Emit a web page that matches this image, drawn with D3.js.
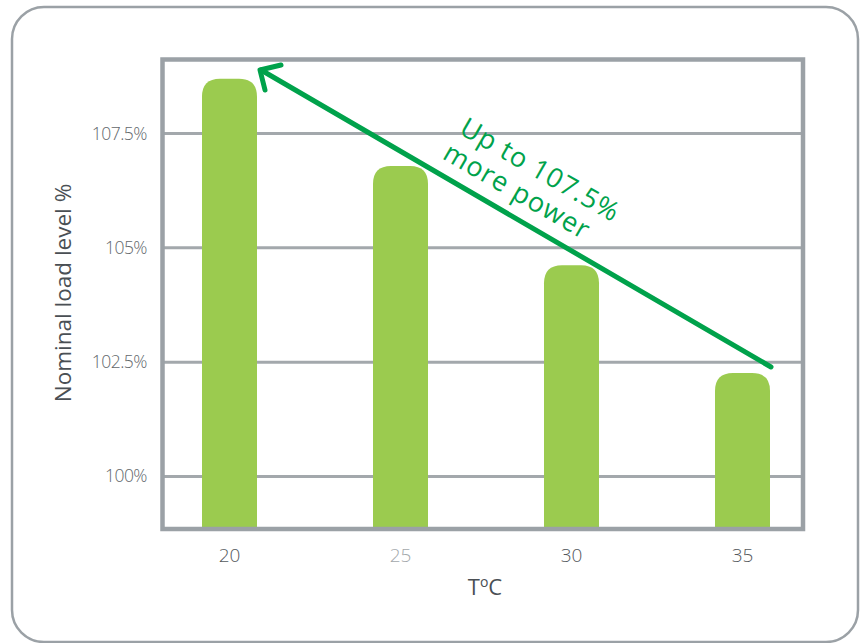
<!DOCTYPE html>
<html>
<head>
<meta charset="utf-8">
<script src="https://cdn.jsdelivr.net/npm/d3@7"></script>
<style>
  body { margin: 0; background: #fff; }
  svg { display: block; font-family: "Open Sans", "Lato", sans-serif; }
</style>
</head>
<body>
<svg id="chart"></svg>
<script>
const width = 863;
const height = 643;

// data
const temps = ["20", "25", "30", "35"];
const loads = [108.7, 106.79, 104.62, 102.26];
const yTicks = [100, 102.5, 105, 107.5];
const tickLabels = ["100%", "102.5%", "105%", "107.5%"];

const svg = d3.select("#chart").attr("width", width).attr("height", height);

const plot = { left: 162.5, right: 803, top: 59.5, bottom: 529 };
const frameColor = "#9ba1a6";

// outer rounded border
svg.append("rect")
  .attr("x", 12).attr("y", 7)
  .attr("width", 846).attr("height", 635)
  .attr("rx", 32)
  .attr("fill", "none")
  .attr("stroke", frameColor)
  .attr("stroke-width", 2.5);

const x = d3.scalePoint().domain(temps).range([229.5, 742.5]);
const y = d3.scaleLinear().domain([98.85, 109.12]).range([plot.bottom, plot.top]);

// gridlines
svg.append("g")
  .selectAll("line")
  .data(yTicks)
  .join("line")
  .attr("x1", plot.left).attr("x2", plot.right)
  .attr("y1", (d) => y(d)).attr("y2", (d) => y(d))
  .attr("stroke", "#a3a8ac")
  .attr("stroke-width", 3);

// bars with rounded tops
const barW = 55;
const r = 18;
svg.append("g")
  .selectAll("path")
  .data(temps)
  .join("path")
  .attr("fill", "#9bcb4f")
  .attr("d", (d, i) => {
    const x0 = x(d) - barW / 2;
    const x1 = x(d) + barW / 2;
    const yt = y(loads[i]);
    const yb = plot.bottom;
    return `M${x0},${yb}V${yt + r}Q${x0},${yt} ${x0 + r},${yt}H${x1 - r}Q${x1},${yt} ${x1},${yt + r}V${yb}Z`;
  });

// plot frame
svg.append("rect")
  .attr("x", plot.left).attr("y", plot.top)
  .attr("width", plot.right - plot.left)
  .attr("height", plot.bottom - plot.top)
  .attr("fill", "none")
  .attr("stroke", frameColor)
  .attr("stroke-width", 4.5);

// y tick labels
svg.append("g")
  .selectAll("text")
  .data(yTicks)
  .join("text")
  .attr("x", 147)
  .attr("y", (d) => y(d) + 6)
  .attr("text-anchor", "end")
  .attr("font-size", 17.5)
  .attr("font-weight", 300)
  .attr("letter-spacing", -0.5)
  .attr("fill", "#62676b")
  .text((d, i) => tickLabels[i]);

// x tick labels
svg.append("g")
  .selectAll("text")
  .data(temps)
  .join("text")
  .attr("x", (d) => x(d))
  .attr("y", 562)
  .attr("text-anchor", "middle")
  .attr("font-size", 19)
  .attr("font-weight", 300)
  .attr("fill", (d) => (d === "25" ? "#a3a8ac" : "#55595d"))
  .text((d) => d);

// axis titles
const xt = svg.append("text")
  .attr("x", 485).attr("y", 595)
  .attr("text-anchor", "middle")
  .attr("font-size", 22)
  .attr("fill", "#4a4f54");
xt.append("tspan").text("T");
xt.append("tspan").attr("font-size", 14).attr("dy", -8).text("o");
xt.append("tspan").attr("dy", 8).text("C");

svg.append("text")
  .attr("transform", "translate(71,293) rotate(-90)")
  .attr("text-anchor", "middle")
  .attr("font-size", 22.5)
  .attr("font-weight", 500)
  .attr("fill", "#4a4f54")
  .text("Nominal load level %");

// annotation arrow
const green = "#00a24b";
const arrow = svg.append("g")
  .attr("stroke", green)
  .attr("stroke-width", 5)
  .attr("stroke-linecap", "round")
  .attr("fill", "none");
arrow.append("line")
  .attr("x1", 771).attr("y1", 367)
  .attr("x2", 261).attr("y2", 70);
arrow.append("polyline")
  .attr("points", "281,65 260,70 265,90")
  .attr("stroke-linejoin", "round");

const note = svg.append("text")
  .attr("transform", "translate(458,133) rotate(30)")
  .attr("font-size", 27)
  .attr("letter-spacing", 1)
  .attr("fill", green);
note.append("tspan").attr("x", 0).attr("dy", 0).text("Up to 107.5%");
note.append("tspan").attr("x", -2).attr("dy", 30).text("more power");
</script>
</body>
</html>
